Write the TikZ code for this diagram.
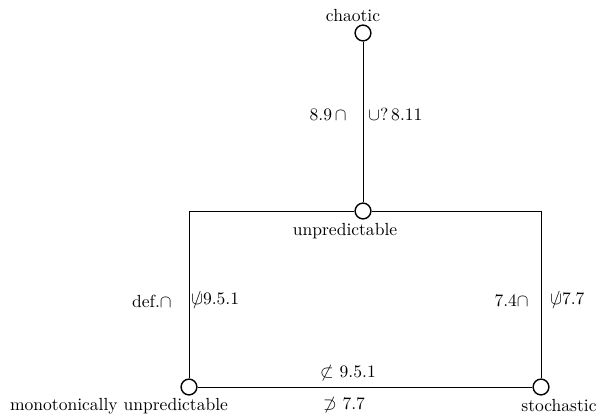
\documentclass[tikz,border=0pt]{standalone}
\newcommand{\ncupsym}{\mbox{\ooalign{$\cup$\cr\hidewidth$/$\hidewidth\cr}}}
\begin{document}
\begin{tikzpicture}[x=0.57pt,y=-0.57pt,
  state/.style={circle,draw,line width=0.8pt,fill=white,minimum size=9pt,inner sep=0pt},
  txt/.style={inner sep=0pt,font=\normalsize},
  edge/.style={line width=0.45pt}]
\useasboundingbox (0,0) rectangle (598,415);
% states
\node[state] (c) at (363,33) {};
\node[state] (u) at (363,211) {};
\node[state] (m) at (189,387) {};
\node[state] (s) at (541,387) {};
% connectors
\draw[edge] (c) -- (u);
\draw[edge] (u) -| (m);
\draw[edge] (u) -| (s);
\draw[edge] (m) -- (s);
% names
\node[txt] (tc) at (353,16) {chaotic};
\node[txt] (tu) at (345,231) {unpredictable};
\node[txt] (tm) at (119,406) {monotonically unpredictable};
\node[txt] (ts) at (559,406) {stochastic};
% edge labels
\node[txt,anchor=east] (l1) at (347,115) {8.9\,$\cap$};
\node[txt,anchor=west] (l2) at (368,115) {$\cup$?\,8.11};
\node[txt,anchor=east] (l3) at (172,301) {def.$\cap$};
\node[txt,anchor=west] (l4) at (191,301) {\ncupsym9.5.1};
\node[txt,anchor=east] (l5) at (529,301) {7.4$\cap$};
\node[txt,anchor=west] (l6) at (550,301) {\ncupsym7.7};
\node[txt] (l7) at (348,373) {$\not\subset$ 9.5.1};
\node[txt] (l8) at (344,405) {$\not\supset$ 7.7};
\end{tikzpicture}
\end{document}
